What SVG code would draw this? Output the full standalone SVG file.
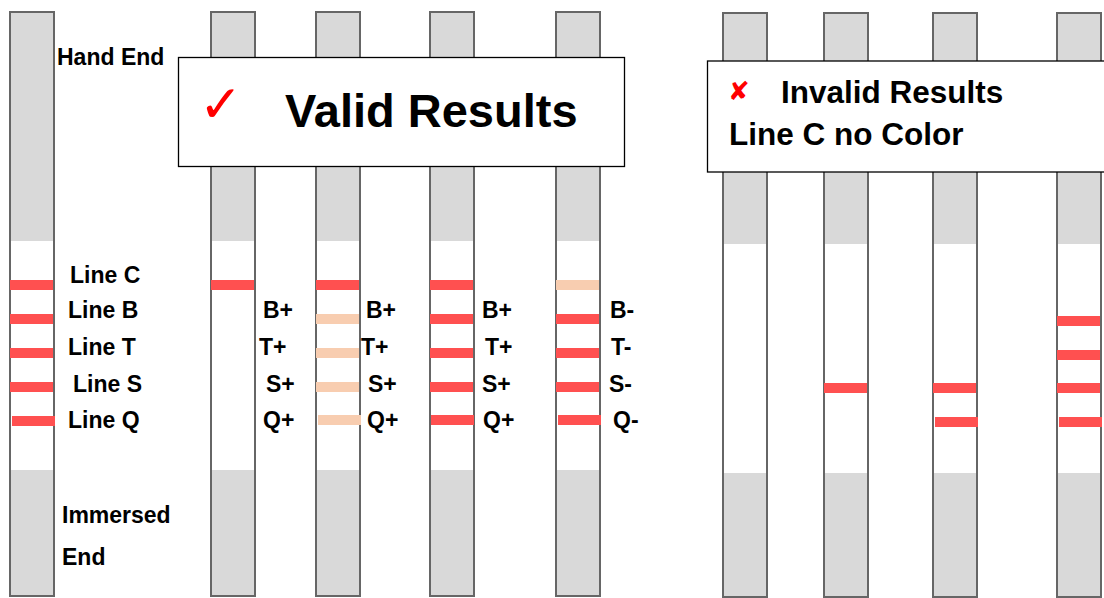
<svg xmlns="http://www.w3.org/2000/svg" width="1104" height="598" viewBox="0 0 1104 598">
<style>
.strip{fill:#ffffff;stroke:#666666;stroke-width:2}
.gray{fill:#d9d9d9}
.red{fill:#ff5050}
.pale{fill:#f8cdb0}
.lbl{font-family:"Liberation Sans",Arial,sans-serif;font-weight:bold;font-size:23px;fill:#000}
.box{fill:#ffffff;stroke:#000000;stroke-width:1.3}
.title{font-family:"Liberation Sans",Arial,sans-serif;font-weight:bold;fill:#000}
.sym{font-family:"DejaVu Sans",sans-serif;fill:#ff0000}
</style>
<rect width="1104" height="598" fill="#ffffff"/>
<defs>
<g id="stripL">
<rect class="strip" x="0" y="0" width="44" height="584"/>
<rect class="gray" x="1" y="1" width="42" height="228"/>
<rect class="gray" x="1" y="458" width="42" height="125"/>
</g>
<g id="stripR">
<rect class="strip" x="0" y="0" width="44" height="584"/>
<rect class="gray" x="1" y="1" width="42" height="230"/>
<rect class="gray" x="1" y="460" width="42" height="123"/>
</g>
</defs>

<g id="strip-reference">
<use href="#stripL" x="10" y="12"/>
<rect class="red" x="10" y="280" width="43" height="10"/>
<rect class="red" x="10" y="314" width="43" height="10"/>
<rect class="red" x="10" y="348" width="43" height="10"/>
<rect class="red" x="10" y="382" width="43" height="10"/>
<rect class="red" x="12" y="416" width="43" height="10"/>
<text class="lbl" x="57" y="65">Hand End</text>
<text class="lbl" x="70" y="283">Line C</text>
<text class="lbl" x="68" y="318">Line B</text>
<text class="lbl" x="68" y="355">Line T</text>
<text class="lbl" x="73" y="392">Line S</text>
<text class="lbl" x="68" y="428">Line Q</text>
<text class="lbl" x="62" y="523">Immersed</text>
<text class="lbl" x="62" y="565">End</text>
</g>

<g id="strip-valid-1">
<use href="#stripL" x="211" y="12"/>
<rect class="red" x="211" y="280" width="43" height="10"/>
<text class="lbl" x="263" y="318">B+</text>
<text class="lbl" x="259" y="355">T+</text>
<text class="lbl" x="266" y="392">S+</text>
<text class="lbl" x="263" y="428">Q+</text>
</g>

<g id="strip-valid-2">
<use href="#stripL" x="316" y="12"/>
<rect class="red" x="316" y="280" width="43" height="10"/>
<rect class="pale" x="316" y="314" width="43" height="10"/>
<rect class="pale" x="316" y="348" width="43" height="10"/>
<rect class="pale" x="316" y="382" width="43" height="10"/>
<rect class="pale" x="318" y="415" width="43" height="10"/>
<text class="lbl" x="366" y="318">B+</text>
<text class="lbl" x="361" y="355">T+</text>
<text class="lbl" x="368" y="392">S+</text>
<text class="lbl" x="367" y="428">Q+</text>
</g>

<g id="strip-valid-3">
<use href="#stripL" x="430" y="12"/>
<rect class="red" x="430" y="280" width="43" height="10"/>
<rect class="red" x="430" y="314" width="43" height="10"/>
<rect class="red" x="430" y="348" width="43" height="10"/>
<rect class="red" x="430" y="382" width="43" height="10"/>
<rect class="red" x="431" y="415" width="43" height="10"/>
<text class="lbl" x="482" y="318">B+</text>
<text class="lbl" x="485" y="355">T+</text>
<text class="lbl" x="482" y="392">S+</text>
<text class="lbl" x="483" y="428">Q+</text>
</g>

<g id="strip-valid-4">
<use href="#stripL" x="556" y="12"/>
<rect class="pale" x="556" y="280" width="43" height="10"/>
<rect class="red" x="556" y="314" width="43" height="10"/>
<rect class="red" x="556" y="348" width="43" height="10"/>
<rect class="red" x="556" y="382" width="43" height="10"/>
<rect class="red" x="558" y="415" width="43" height="10"/>
<text class="lbl" x="610" y="318">B-</text>
<text class="lbl" x="611" y="355">T-</text>
<text class="lbl" x="609" y="392">S-</text>
<text class="lbl" x="613" y="428">Q-</text>
</g>

<g id="strip-invalid-1">
<use href="#stripR" x="723" y="13"/>
</g>
<g id="strip-invalid-2">
<use href="#stripR" x="824" y="13"/>
<rect class="red" x="824" y="383" width="43" height="10"/>
</g>
<g id="strip-invalid-3">
<use href="#stripR" x="933" y="13"/>
<rect class="red" x="933" y="383" width="43" height="10"/>
<rect class="red" x="935" y="417" width="43" height="10"/>
</g>
<g id="strip-invalid-4">
<use href="#stripR" x="1057" y="13"/>
<rect class="red" x="1057" y="316" width="43" height="10"/>
<rect class="red" x="1057" y="350" width="43" height="10"/>
<rect class="red" x="1057" y="383" width="43" height="10"/>
<rect class="red" x="1059" y="417" width="43" height="10"/>
</g>

<g id="valid-box">
<rect class="box" x="178.5" y="57.5" width="446" height="109"/>
<text class="sym" x="199" y="122" font-size="52">✓</text>
<text class="title" x="285" y="127" font-size="47">Valid Results</text>
</g>

<g id="invalid-box">
<rect class="box" x="707.5" y="61" width="410" height="111"/>
<text class="sym" x="728" y="100" font-size="26" font-weight="bold">✘</text>
<text class="title" x="781" y="103" font-size="31.5">Invalid Results</text>
<text class="title" x="729" y="145" font-size="31.5">Line C no Color</text>
</g>

<g id="connectors"></g>
</svg>
